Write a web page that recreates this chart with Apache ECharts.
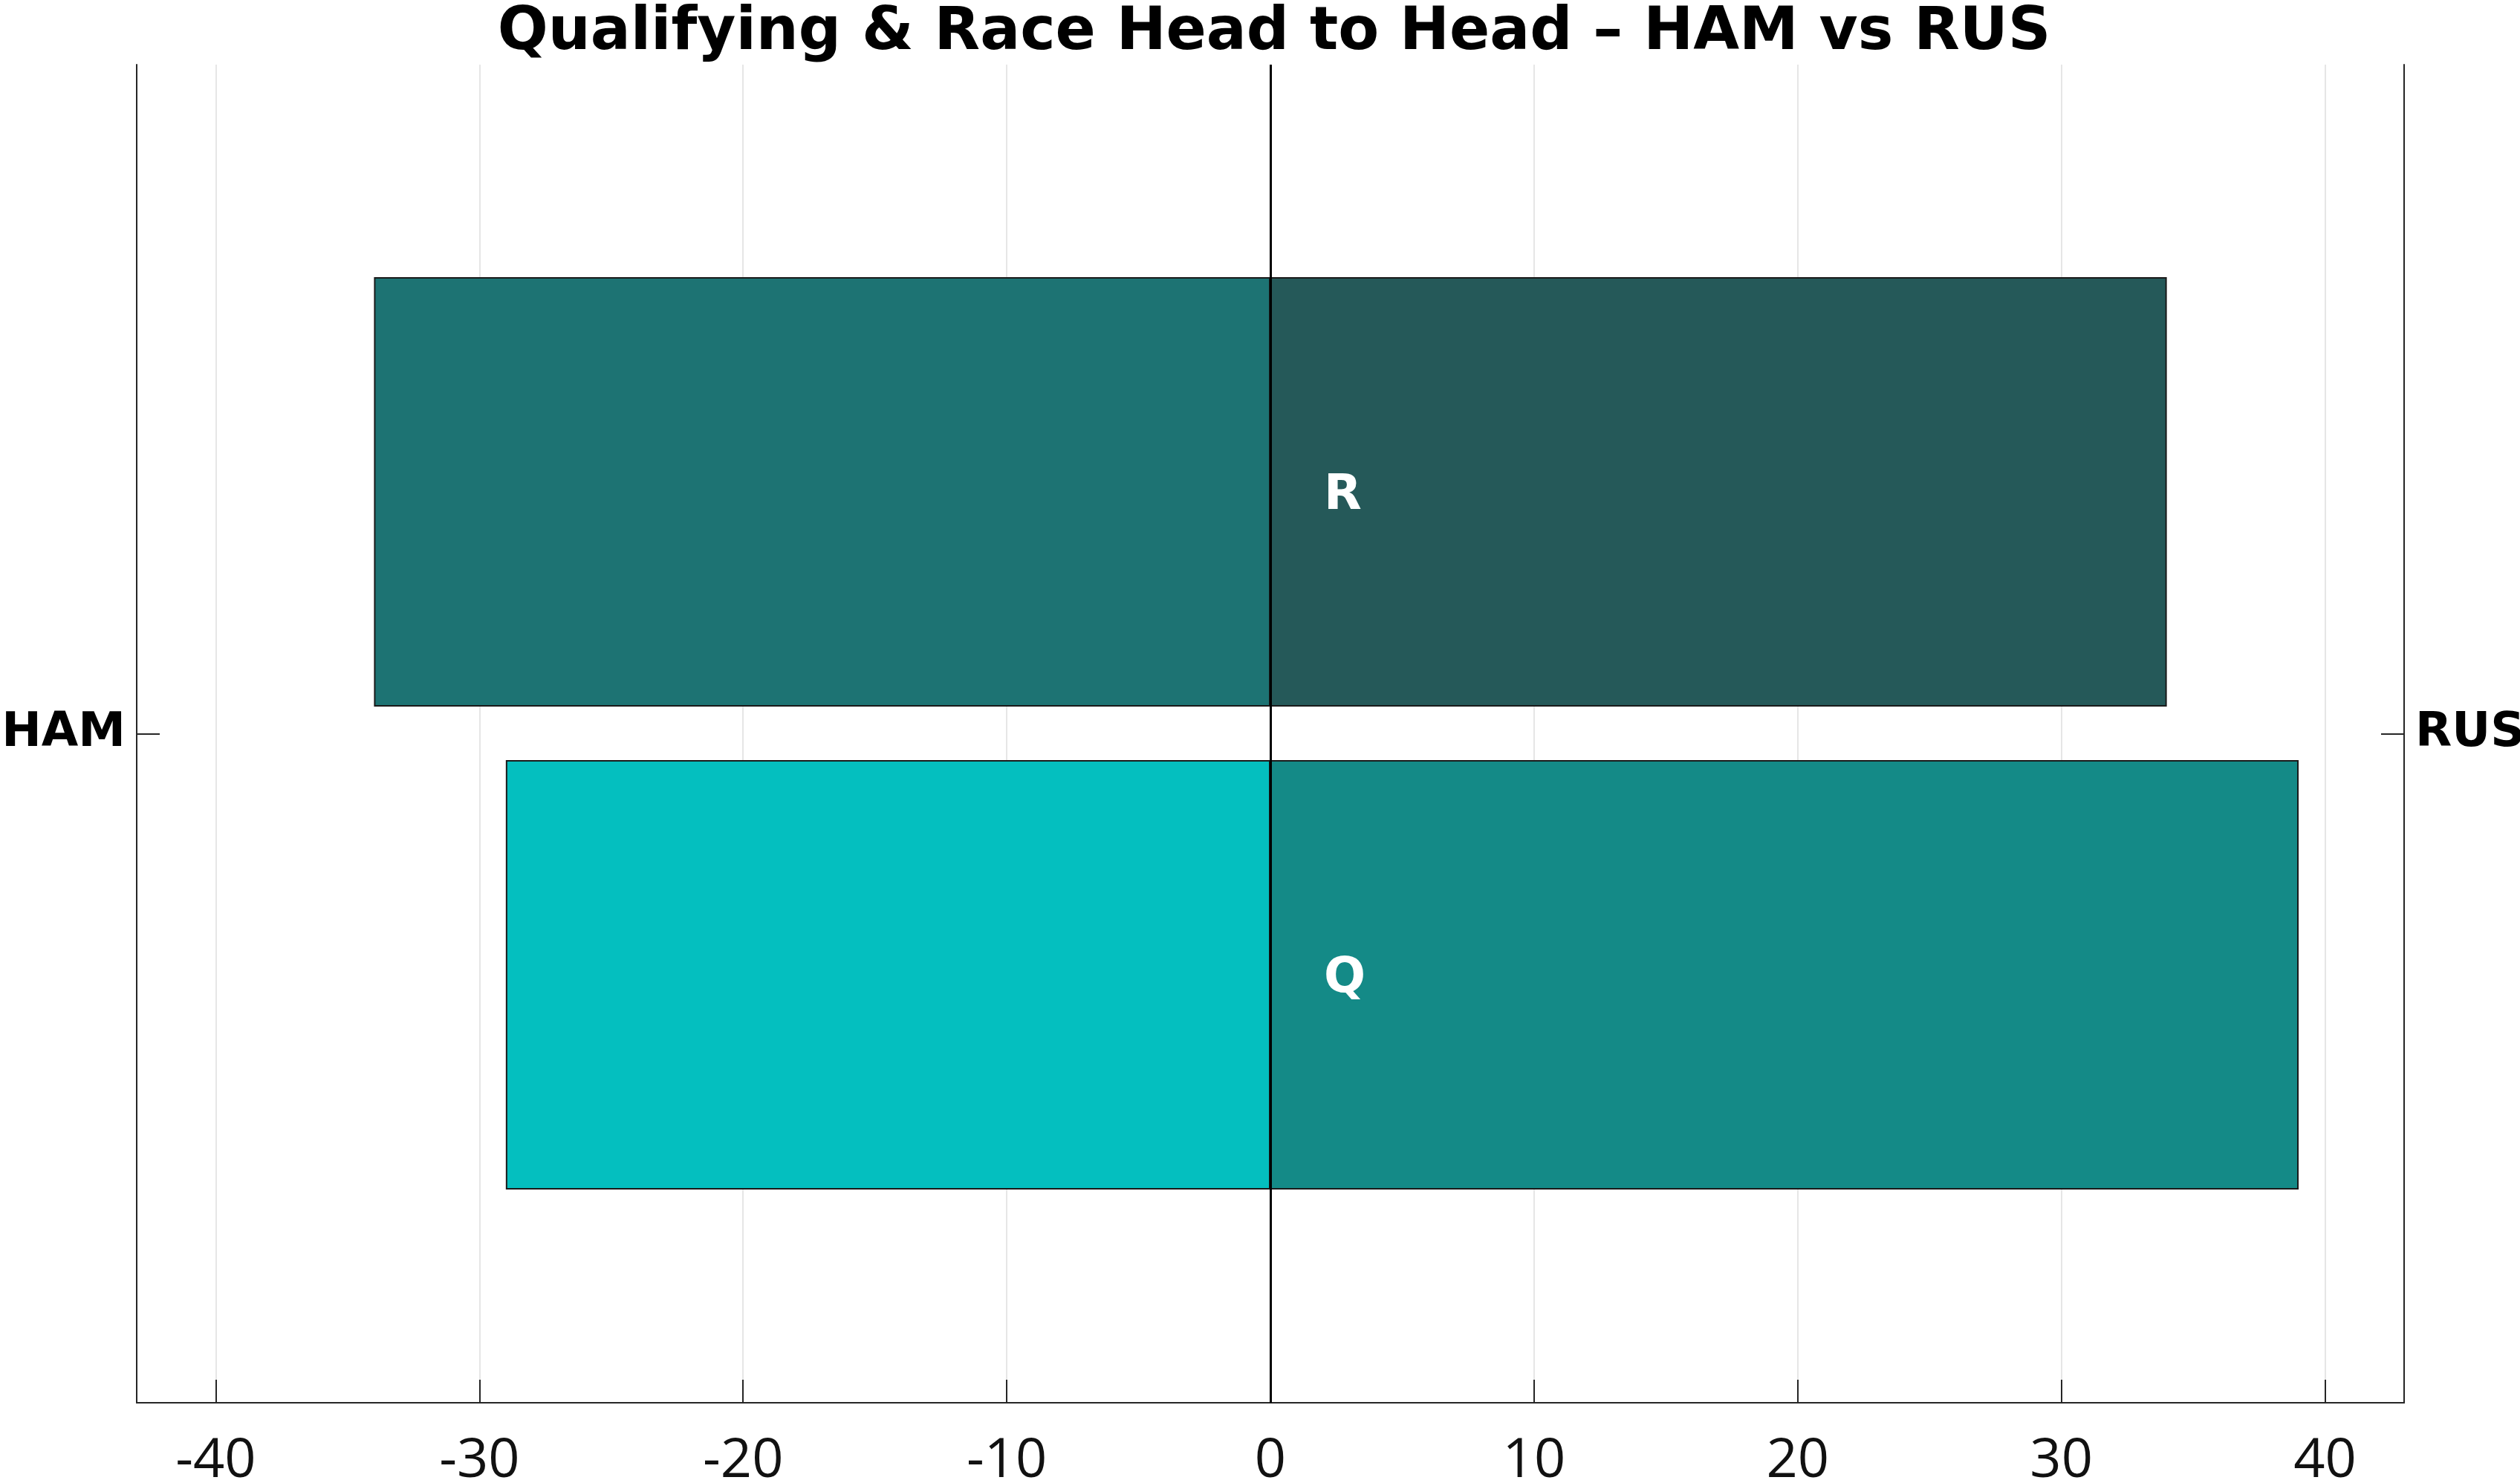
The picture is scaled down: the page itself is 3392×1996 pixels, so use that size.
<!DOCTYPE html>
<html>
<head>
<meta charset="utf-8">
<title>Qualifying & Race Head to Head – HAM vs RUS</title>
<script src="https://cdn.jsdelivr.net/npm/echarts@6/dist/echarts.min.js"></script>
<style>
  html, body { margin: 0; padding: 0; background: #ffffff; }
  #chart { width: 3392px; height: 1996px; }
</style>
</head>
<body>
<div id="chart"></div>
<script>
const sessions = ['Q', 'R'];          // bottom to top
const hamWins = [-29, -34];           // plotted to the left
const rusWins = [39, 34];             // plotted to the right
const hamColors = ['#04BFBF', '#1D7373'];
const rusColors = ['#148A87', '#255959'];
const driverLeft = 'HAM';
const driverRight = 'RUS';
const xRange = [-43, 43];

const INK = '#262626';

function buildOption() {
  const sideAxis = (name, position) => ({
    type: 'category',
    gridIndex: 0,
    position,
    data: [name],
    axisLine: { show: true, onZero: false, lineStyle: { color: INK, width: 2 } },
    axisTick: { show: true, inside: true, alignWithLabel: true, length: 31, lineStyle: { color: INK, width: 2 } },
    axisLabel: {
      margin: 15,
      color: '#000',
      fontFamily: 'DejaVu Sans',
      fontWeight: 'bold',
      fontSize: 64
    },
    splitLine: { show: false }
  });

  return {
    animation: false,
    backgroundColor: '#ffffff',
    title: {
      text: 'Qualifying & Race Head to Head – HAM vs RUS',
      left: 1710,
      textAlign: 'center',
      top: 0,
      textStyle: { fontFamily: 'DejaVu Sans', fontWeight: 'bold', fontSize: 80, color: '#000' }
    },
    grid: [
      // frame: axes, grid lines and zero line (fixed box, labels may sit outside)
      { left: 184, right: 156, top: 87, bottom: 108, outerBoundsMode: 'none', containLabel: false },
      // bars
      { left: 184, right: 156, top: 337, bottom: 359, outerBoundsMode: 'none', containLabel: false }
    ],
    xAxis: [
      {
        type: 'value',
        gridIndex: 0,
        min: xRange[0],
        max: xRange[1],
        minInterval: 10,
        maxInterval: 10,
        axisLine: { show: true, lineStyle: { color: INK, width: 2 } },
        axisTick: { show: true, inside: true, length: 31, lineStyle: { color: INK, width: 2 } },
        axisLabel: {
          margin: 42,
          color: '#111',
          fontFamily: 'Open Sans',
          fontSize: 74,
          formatter: (v) => (Math.round(v) % 10 === 0 ? String(v) : '')
        },
        splitLine: { show: true, lineStyle: { color: '#e6e6e6', width: 2 } }
      },
      { type: 'value', gridIndex: 1, min: xRange[0], max: xRange[1], show: false }
    ],
    yAxis: [
      sideAxis(driverLeft, 'left'),
      sideAxis(driverRight, 'right'),
      { type: 'category', gridIndex: 1, data: sessions, show: false }
    ],
    series: [
      {
        name: driverLeft,
        type: 'bar',
        xAxisIndex: 1,
        yAxisIndex: 2,
        stack: 'h2h',
        barWidth: 578,
        data: hamWins.map((v, i) => ({ value: v, itemStyle: { color: hamColors[i] } })),
        itemStyle: { borderColor: '#1a1a1a', borderWidth: 2 }
      },
      {
        name: driverRight,
        type: 'bar',
        xAxisIndex: 1,
        yAxisIndex: 2,
        stack: 'h2h',
        barWidth: 578,
        data: rusWins.map((v, i) => ({ value: v, itemStyle: { color: rusColors[i] } })),
        itemStyle: { borderColor: '#1a1a1a', borderWidth: 2 },
        label: {
          show: true,
          position: 'insideLeft',
          distance: 72,
          offset: [0, 6],
          formatter: '{b}',
          color: '#ffffff',
          fontFamily: 'DejaVu Sans',
          fontWeight: 'bold',
          fontSize: 66
        }
      },
      {
        // carries the zero line across the full frame height
        type: 'line',
        xAxisIndex: 0,
        yAxisIndex: 0,
        data: [],
        z: 10,
        markLine: {
          silent: true,
          symbol: ['none', 'none'],
          label: { show: false },
          lineStyle: { color: '#000', width: 3, type: 'solid' },
          data: [{ xAxis: 0 }]
        }
      }
    ]
  };
}

const chart = echarts.init(document.getElementById('chart'));
chart.setOption(buildOption());
window.addEventListener('resize', () => chart.resize());
</script>
</body>
</html>
